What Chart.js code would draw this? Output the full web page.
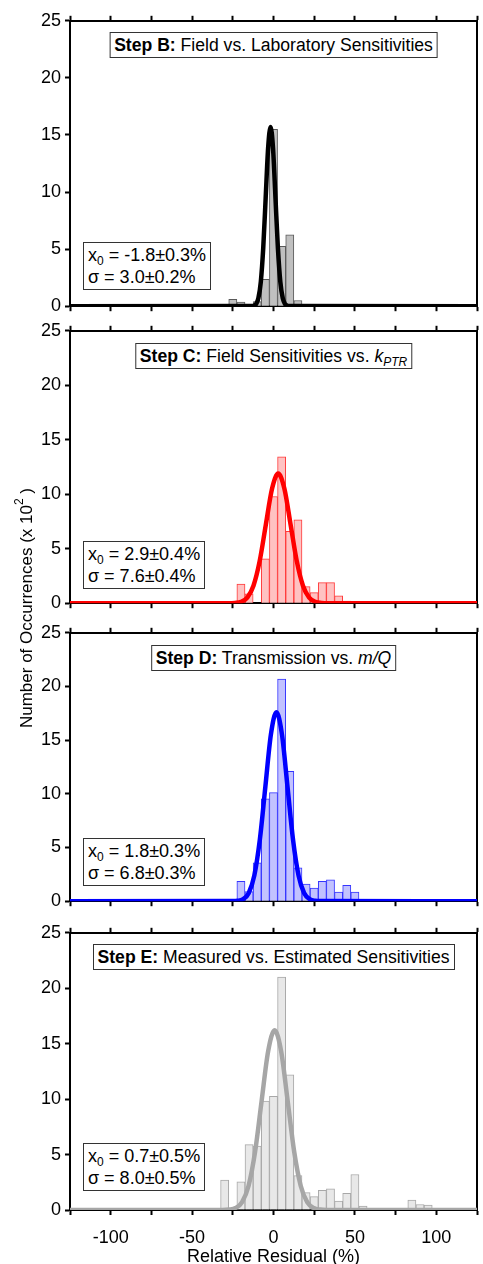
<!DOCTYPE html>
<html>
<head>
<meta charset="utf-8">
<script src="https://cdn.jsdelivr.net/npm/chart.js@4.4.1/dist/chart.umd.min.js"></script>
<style>
  html, body { margin:0; padding:0; background:#fff; width:483px; height:1264px; overflow:hidden; }
  body { position:relative; font-family:"Liberation Sans", Arial, sans-serif; color:#000; }
  canvas.cv { position:absolute; left:0; }
  .ttl { position:absolute; transform:translateX(-50%); border:1px solid #333; background:#fff;
         font-size:17.6px; line-height:24px; padding:0 4px; white-space:nowrap; }
  .stat { position:absolute; border:1px solid #333; background:#fff;
          font-size:18px; line-height:22px; padding:1px 4px; white-space:nowrap; }
  .ttl sub, .stat sub { font-size:12px; line-height:0; vertical-align:-4px; }
  .ytitle { position:absolute; width:420px; left:-183px; top:597px; text-align:center;
            font-size:17px; line-height:22px; transform:rotate(-90deg); white-space:nowrap; }
  .ytitle sup { font-size:12px; line-height:0; vertical-align:9px; }
  .xtitle { position:absolute; left:73px; width:401px; top:1246px; text-align:center;
            font-size:18px; line-height:20px; white-space:nowrap; }
</style>
</head>
<body>
<canvas class="cv" id="pB"></canvas>
<canvas class="cv" id="pC"></canvas>
<canvas class="cv" id="pD"></canvas>
<canvas class="cv" id="pE"></canvas>

<div class="ttl" style="left:273.5px; top:32px;"><b>Step B:</b> Field vs. Laboratory Sensitivities</div>
<div class="ttl" style="left:273.5px; top:343px;"><b>Step C:</b> Field Sensitivities vs. <i>k<sub>PTR</sub></i></div>
<div class="ttl" style="left:273.5px; top:645px;"><b>Step D:</b> Transmission vs. <i>m/Q</i></div>
<div class="ttl" style="left:273.5px; top:944px;"><b>Step E:</b> Measured vs. Estimated Sensitivities</div>

<div class="stat" style="left:83px; top:242px;">x<sub>0</sub> = -1.8±0.3%<br>σ = 3.0±0.2%</div>
<div class="stat" style="left:83px; top:541px;">x<sub>0</sub> = 2.9±0.4%<br>σ = 7.6±0.4%</div>
<div class="stat" style="left:83px; top:838px;">x<sub>0</sub> = 1.8±0.3%<br>σ = 6.8±0.3%</div>
<div class="stat" style="left:83px; top:1143px;">x<sub>0</sub> = 0.7±0.5%<br>σ = 8.0±0.5%</div>

<div class="ytitle">Number of Occurrences (x 10<sup>2</sup> )</div>
<div class="xtitle">Relative Residual (%)</div>

<script>
// ---------- DATA ----------
const binCenters = [-35,-30,-25,-20,-15,-10,-5,0,5,10,15,20,25,30,35,40,45,50,55,60,65,70,75,80,85,90,95,100];

const countsStepB = [0,0.15,0.6,0.35,0,0.4,2.35,15.5,5.25,6.25,0.5,0,0,0,0,0,0,0,0,0,0,0,0,0,0,0,0,0];
const countsStepC = [0,0,0,1.76,0.85,0,4.07,9.79,13.44,6.6,7.66,1.52,0.97,1.89,1.89,0.67,0.2,0,0,0,0,0,0,0,0,0,0,0];
const countsStepD = [0,0,0,1.85,0.9,3.58,9.54,10.12,20.7,12.1,3.1,1.6,1.23,1.85,1.98,0.86,1.48,0.86,0,0,0,0,0,0,0,0,0,0];
const countsStepE = [0,2.7,0,2.55,5.9,5.76,9.83,10.25,21.0,12.2,3.1,1.56,1.2,1.77,1.92,0.81,1.5,3.2,0.36,0,0,0,0,0,0.9,0.5,0.45,0];

// Gaussian fit curves
const fitXStepB = [-125,-13.8,-12.3,-10.8,-9.3,-7.8,-6.3,-4.8,-3.3,-1.8,-0.3,1.2,2.7,4.2,5.7,7.2,8.7,10.2,125];
const fitYStepB = [0,0.01,0.03,0.17,0.69,2.12,5.10,9.52,13.86,15.7,13.86,9.52,5.10,2.12,0.69,0.17,0.03,0.01,0];

const fitXStepC = [-125,-27.5,-23.7,-19.9,-16.1,-12.3,-8.5,-4.7,-0.9,2.9,6.7,10.5,14.3,18.1,21.9,25.7,29.5,33.3,125];
const fitYStepC = [0,0,0.03,0.13,0.52,1.61,3.86,7.22,10.50,11.9,10.50,7.22,3.86,1.61,0.52,0.13,0.03,0,0];

const fitXStepD = [-125,-25.4,-22.0,-18.6,-15.2,-11.8,-8.4,-5.0,-1.6,1.8,5.2,8.6,12.0,15.4,18.8,22.2,25.6,29.0,125];
const fitYStepD = [0,0.01,0.04,0.20,0.77,2.38,5.72,10.67,15.53,17.6,15.53,10.67,5.72,2.38,0.77,0.20,0.04,0.01,0];

const fitXStepE = [-125,-31.3,-27.3,-23.3,-19.3,-15.3,-11.3,-7.3,-3.3,0.7,4.7,8.7,12.7,16.7,20.7,24.7,28.7,32.7,125];
const fitYStepE = [0,0.01,0.04,0.18,0.71,2.19,5.26,9.83,14.30,16.2,14.30,9.83,5.26,2.19,0.71,0.18,0.04,0.01,0];

const xRange = [-125, 125];
const yRange = [0, 25];
const xLabelValues = [-100, -50, 0, 50, 100];

// ---------- LAYOUT / STYLE ----------
const FONT = "'Liberation Sans', Arial, sans-serif";
const panels = [
  { id:'pB', top:20,  bottom:307,  counts:countsStepB, fx:fitXStepB, fy:fitYStepB, fill:'#c0c0c0', edge:'#5a5a5a', line:'#000000', labels:false },
  { id:'pC', top:330, bottom:604,  counts:countsStepC, fx:fitXStepC, fy:fitYStepC, fill:'#ffc2c2', edge:'#ff3b3b', line:'#ff0000', labels:false },
  { id:'pD', top:632, bottom:902,  counts:countsStepD, fx:fitXStepD, fy:fitYStepD, fill:'#c2c2ff', edge:'#3535ff', line:'#0000ff', labels:false },
  { id:'pE', top:932, bottom:1210, counts:countsStepE, fx:fitXStepE, fy:fitYStepE, fill:'#e8e8e8', edge:'#a8a8a8', line:'#a6a6a6', labels:true }
];
const TOP_SPACE = 14, LEFT_W = 70, RIGHT_W = 6, W = 483;

panels.forEach(p => {
  const bottomSpace = p.labels ? 1264 - p.bottom : 14;
  const h = (p.bottom - p.top) + TOP_SPACE + bottomSpace;
  const cv = document.getElementById(p.id);
  cv.width = W; cv.height = h;
  cv.style.width = W + 'px'; cv.style.height = h + 'px';
  cv.style.top = (p.top - TOP_SPACE) + 'px';

  const axisGrid = { drawOnChartArea:false, drawTicks:true, tickLength:5, tickWidth:2, tickColor:'#000', offset:false };
  const axisBorder = { display:true, color:'#000', width:2 };

  new Chart(cv.getContext('2d'), {
    data: {
      datasets: [
        {
          type:'line',
          data: p.fx.map((x, i) => ({ x: x, y: p.fy[i] })),
          borderColor: p.line, borderWidth: 4.5,
          pointRadius: 0, cubicInterpolationMode:'monotone',
          borderCapStyle:'round', borderJoinStyle:'round',
          clip: { left:0, right:0, top:5, bottom:0 },
          order: 0
        },
        {
          type:'bar',
          data: binCenters.map((x, i) => ({ x: x, y: p.counts[i] })),
          backgroundColor: p.fill, borderColor: p.edge, borderWidth: 1,
          barPercentage: 1, categoryPercentage: 1, grouped:false,
          order: 1
        }
      ]
    },
    options: {
      responsive:false, animation:false, devicePixelRatio:1,
      layout: { padding:0 },
      plugins: { legend:{ display:false }, tooltip:{ enabled:false } },
      scales: {
        x: {
          type:'linear', position:'bottom', min:xRange[0], max:xRange[1], offset:false,
          afterFit: s => { s.height = bottomSpace; s.paddingLeft = 0; s.paddingRight = 0; },
          grid: axisGrid, border: axisBorder,
          ticks: {
            display: p.labels, stepSize:25, autoSkip:false, maxRotation:0, padding:12,
            color:'#000', font:{ family:FONT, size:18 },
            callback: v => xLabelValues.includes(v) ? String(v) : ''
          }
        },
        x2: {
          type:'linear', position:'top', min:xRange[0], max:xRange[1], offset:false,
          afterFit: s => { s.height = TOP_SPACE; s.paddingLeft = 0; s.paddingRight = 0; },
          grid: axisGrid, border: axisBorder,
          ticks: { display:false, stepSize:25, autoSkip:false }
        },
        y: {
          type:'linear', position:'left', min:yRange[0], max:yRange[1],
          afterFit: s => { s.width = LEFT_W; },
          grid: axisGrid, border: axisBorder,
          ticks: { stepSize:5, autoSkip:false, padding:4, color:'#000', font:{ family:FONT, size:18 } }
        },
        y2: {
          type:'linear', position:'right', min:yRange[0], max:yRange[1],
          afterFit: s => { s.width = RIGHT_W; },
          grid: { drawOnChartArea:false, drawTicks:false }, border: axisBorder,
          ticks: { display:false }
        }
      }
    }
  });
});
</script>
</body>
</html>
